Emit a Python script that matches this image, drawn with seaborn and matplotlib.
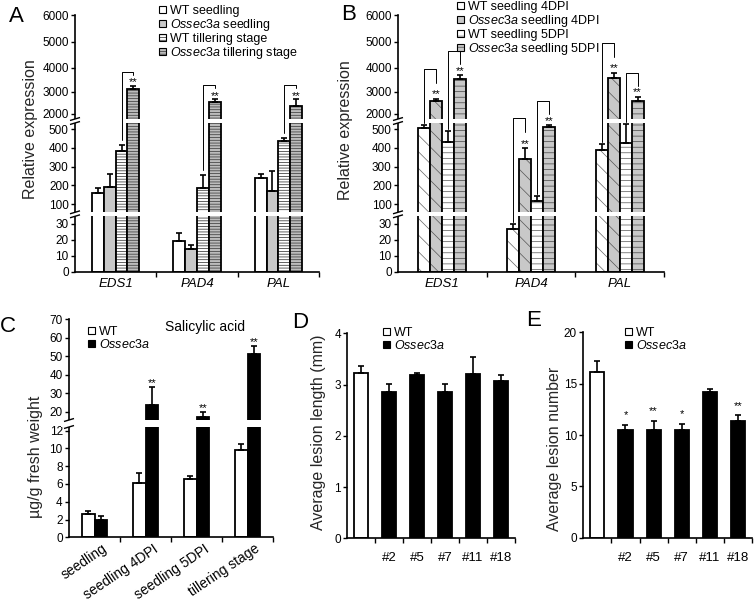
import numpy as np
import pandas as pd
import seaborn as sns
import matplotlib.pyplot as plt
from matplotlib.patches import Patch, Rectangle
from matplotlib.colors import to_rgba
from matplotlib.transforms import ScaledTranslation

# ---------------- data ----------------
genes = ['EDS1', 'PAD4', 'PAL']

# A: seedling vs tillering stage
a_labels = ['WT seedling', 'Ossec3a seedling', 'WT tillering stage', 'Ossec3a tillering stage']
a_wt_seed = [158, 19, 242]
a_wt_seed_err = [30, 5, 18]
a_oss_seed = [190, 14, 170]
a_oss_seed_err = [70, 3, 105]
a_wt_till = [382, 185, 438]
a_wt_till_err = [32, 70, 12]
a_oss_till = [3120, 2560, 2360]
a_oss_till_err = [150, 140, 300]

# B: seedling 4DPI / 5DPI
b_labels = ['WT seedling 4DPI', 'Ossec3a seedling 4DPI', 'WT seedling 5DPI', 'Ossec3a seedling 5DPI']
b_wt4 = [505, 27, 390]
b_wt4_err = [15, 3, 30]
b_oss4 = [2570, 343, 3600]
b_oss4_err = [120, 55, 200]
b_wt5 = [433, 115, 425]
b_wt5_err = [57, 30, 100]
b_oss5 = [3540, 512, 2590]
b_oss5_err = [150, 8, 190]

# C: salicylic acid
c_cats = ['seedling', 'seedling 4DPI', 'seedling 5DPI', 'tillering stage']
c_wt = [2.6, 6.1, 6.6, 9.8]
c_wt_err = [0.4, 1.1, 0.35, 0.7]
c_oss = [2.0, 23.6, 17.5, 51.0]
c_oss_err = [0.35, 9.7, 2.5, 4.5]
c_stars = ['', '**', '**', '**']

# D / E: lesions
lines = ['WT', '#2', '#5', '#7', '#11', '#18']
line_ticklabels = ['', '#2', '#5', '#7', '#11', '#18']
d_len = [3.22, 2.85, 3.18, 2.85, 3.2, 3.07]
d_len_err = [0.15, 0.17, 0.04, 0.16, 0.33, 0.12]
e_num = [16.1, 10.5, 10.5, 10.5, 14.2, 11.4]
e_num_err = [1.1, 0.5, 0.9, 0.6, 0.3, 0.5]
e_stars = ['', '*', '**', '*', '', '**']

# broken-axis scales: value breakpoints and their height (px) above the baseline
ab_nodes = [0, 30, 34.6, 57.4, 100, 500, 532, 1773, 2000, 3000, 4000, 5000, 6000]
ab_height = [0, 48, 55.4, 59.4, 67.4, 142.7, 148.7, 152.7, 157.7, 179.7, 203.7, 229.7, 256.7]
ab_gaps = [(34.6, 57.4), (532, 1773)]
ab_ticks = [0, 10, 20, 30, 100, 200, 300, 400, 500, 2000, 3000, 4000, 5000, 6000]
c_nodes = [0, 12, 12.4, 15.7, 20, 70]
c_height = [0, 106.6, 110.3, 117.3, 125.3, 218.3]
c_gaps = [(12.4, 15.7)]
c_ticks = [0, 2, 4, 6, 8, 10, 12, 20, 30, 40, 50, 60, 70]

# ---------------- style ----------------
sns.set_theme(style='ticks', rc={
    'axes.linewidth': 1.2,
    'xtick.major.width': 1.0, 'ytick.major.width': 1.0,
    'xtick.minor.width': 1.0,
    'xtick.major.size': 3, 'ytick.major.size': 3, 'xtick.minor.size': 3,
    'xtick.labelsize': 8.5, 'ytick.labelsize': 8.5,
    'xtick.color': 'black', 'ytick.color': 'black',
    'axes.edgecolor': 'black', 'text.color': 'black',
    'hatch.linewidth': 0.5,
    'mathtext.fontset': 'custom',
    'mathtext.rm': 'Liberation Sans',
    'mathtext.it': 'Liberation Sans:italic',
})
plt.rcParams['font.family'] = ['Liberation Sans', 'DejaVu Sans']

W, H = 756, 600
fig = plt.figure(figsize=(W / 100, H / 100), dpi=100)


def px_axes(l, t, r, b):
    ax = fig.add_axes([l / W, 1 - b / H, (r - l) / W, (b - t) / H])
    return ax, r - l


def piecewise(vals, pix):
    v = np.asarray(vals, float)
    p = np.asarray(pix, float)
    s0 = (p[1] - p[0]) / (v[1] - v[0])
    s1 = (p[-1] - p[-2]) / (v[-1] - v[-2])

    def fwd(x):
        x = np.asarray(x, float)
        y = np.interp(x, v, p)
        y = np.where(x < v[0], p[0] + (x - v[0]) * s0, y)
        return np.where(x > v[-1], p[-1] + (x - v[-1]) * s1, y)

    def inv(y):
        y = np.asarray(y, float)
        x = np.interp(y, p, v)
        x = np.where(y < p[0], v[0] + (y - p[0]) / s0, x)
        return np.where(y > p[-1], v[-1] + (y - p[-1]) / s1, x)

    return fwd, inv


def set_hatch(p, hatch, color):
    p.set_hatch(hatch)
    if hasattr(p, 'set_hatchcolor'):
        p.set_hatchcolor(color)
    else:
        p._hatch_color = to_rgba(color)


def legend_label(s):
    return s.replace('Ossec3a', r'$\it{Ossec3a}$')


def add_legend(labels, colors, hatches, hcolors, x, y, fs=9):
    handles = []
    for c, h, hc in zip(colors, hatches, hcolors):
        p = Patch(facecolor=c, edgecolor='black', linewidth=0.8)
        if h:
            set_hatch(p, h, hc)
        handles.append(p)
    fig.legend(handles, [legend_label(s) for s in labels], loc='upper left',
               bbox_to_anchor=(x / W, 1 - y / H), frameon=False, fontsize=fs,
               handlelength=0.55, handleheight=0.55, handletextpad=0.35,
               labelspacing=0.0, borderpad=0, borderaxespad=0)


def grouped_bars(ax, cats, labels, series, errs, colors, hatches, hcolors, width):
    df = pd.DataFrame([(c, lab, v) for lab, vals in zip(labels, series)
                       for c, v in zip(cats, vals)], columns=['cat', 'group', 'value'])
    sns.barplot(data=df, x='cat', y='value', hue='group', order=cats, hue_order=labels,
                palette=colors, width=width, saturation=1, errorbar=None, dodge=True,
                edgecolor='black', linewidth=1.3, legend=False, ax=ax)
    centers = []
    for cont, h, hc, e in zip(ax.containers, hatches, hcolors, errs):
        xs = [p.get_x() + p.get_width() / 2 for p in cont]
        ys = [p.get_height() for p in cont]
        for p in cont:
            if h:
                set_hatch(p, h, hc)
        ax.errorbar(xs, ys, yerr=[np.zeros(len(e)), e], fmt='none', ecolor='black',
                    elinewidth=1.2, capsize=2.3, capthick=1.2, zorder=2)
        centers.append(xs)
    return centers


def single_bars(ax, cats, vals, errs, colors, width):
    df = pd.DataFrame({'cat': cats, 'value': vals})
    sns.barplot(data=df, x='cat', y='value', hue='cat', order=cats, hue_order=cats,
                palette=colors, width=width, saturation=1, errorbar=None, dodge=False,
                edgecolor='black', linewidth=1.3, legend=False, ax=ax)
    xs = []
    for cont, e in zip(ax.containers, errs):
        p = cont[0]
        x = p.get_x() + p.get_width() / 2
        ax.errorbar([x], [p.get_height()], yerr=[[0], [e]], fmt='none', ecolor='black',
                    elinewidth=1.2, capsize=2.3, capthick=1.2, zorder=2)
        xs.append(x)
    return xs


def broken_y(ax, nodes, heights, gaps, ticks, ymax, width_px):
    fwd, inv = piecewise(nodes, heights)
    ax.set_yscale('function', functions=(fwd, inv))
    ax.set_ylim(0, ymax)
    ax.set_yticks(ticks)
    ax.set_yticklabels([str(t) for t in ticks])
    ax.minorticks_off()
    for lo, hi in gaps:
        ax.add_patch(Rectangle((-8 / width_px, lo), 1 + 8 / width_px, hi - lo,
                               transform=ax.get_yaxis_transform(), facecolor='white',
                               edgecolor='none', zorder=3, clip_on=False))
        for v in (lo, hi):
            p = float(fwd(v))
            ax.plot([-5 / width_px, 5 / width_px], [float(inv(p - 1.5)), float(inv(p + 1.5))],
                    transform=ax.get_yaxis_transform(), color='black', lw=1.0,
                    zorder=4, clip_on=False, solid_capstyle='butt')
    return fwd, inv


def bracket(ax, fwd, inv, x1, x2, cap1, cap2, foot, rise, drop, star_off):
    p1 = float(fwd(cap1)) + foot
    top = max(float(fwd(cap2)) + rise, p1 + 4)
    ys = [float(inv(p1)), float(inv(top)), float(inv(top)), float(inv(top - drop))]
    ax.plot([x1, x1, x2, x2], ys, color='black', lw=0.7, zorder=5, clip_on=False)
    ax.annotate('**', (x2, cap2), xytext=(0, star_off), textcoords='offset points',
                ha='center', va='baseline', fontsize=8, zorder=5)


def cat_axis(ax, n, labels, pad, fs, italic=False):
    ax.set_xlim(-0.5, n - 0.5)
    ax.set_xticks(np.arange(n))
    ax.set_xticklabels(labels, fontsize=fs, fontstyle='italic' if italic else 'normal')
    ax.set_xticks(np.arange(0.5, n, 1), minor=True)
    ax.tick_params(axis='x', which='major', length=0, pad=pad)
    ax.tick_params(axis='x', which='minor', length=3.5, width=1.0, direction='out')
    ax.set_xlabel('')


# ---------------- A ----------------
axA, wA = px_axes(75, 15, 319, 271.7)
a_colors = ['white', '#c8c8c8', 'white', '#bcbcbc']
a_hatch = [None, None, '------', '------']
a_hcol = ['black', 'black', '#222222', '#333333']
a_series = [a_wt_seed, a_oss_seed, a_wt_till, a_oss_till]
a_errs = [a_wt_seed_err, a_oss_seed_err, a_wt_till_err, a_oss_till_err]
cA = grouped_bars(axA, genes, a_labels, a_series, a_errs, a_colors, a_hatch, a_hcol, 0.58)
fA, iA = broken_y(axA, ab_nodes, ab_height, ab_gaps, ab_ticks, 6000, wA)
for i in range(len(genes)):
    bracket(axA, fA, iA, cA[2][i], cA[3][i],
            a_wt_till[i] + a_wt_till_err[i], a_oss_till[i] + a_oss_till_err[i],
            5, 14, 3, 0)
cat_axis(axA, 3, genes, 4.5, 9.5, italic=True)
axA.set_ylabel('Relative expression', fontsize=11.5)
axA.yaxis.set_label_coords((38 - 75) / wA, 0.556)
add_legend(a_labels, a_colors, a_hatch, a_hcol, 159, 5)

# ---------------- B ----------------
axB, wB = px_axes(398, 15, 664, 271.7)
b_colors = ['white', '#c8c8c8', 'white', '#c8c8c8']
b_hatch = ['\\\\', '\\\\', '---', '---']
b_hcol = ['#666666', '#555555', '#555555', '#444444']
b_series = [b_wt4, b_oss4, b_wt5, b_oss5]
b_errs = [b_wt4_err, b_oss4_err, b_wt5_err, b_oss5_err]
cB = grouped_bars(axB, genes, b_labels, b_series, b_errs, b_colors, b_hatch, b_hcol, 0.54)
fB, iB = broken_y(axB, ab_nodes, ab_height, ab_gaps, ab_ticks, 6000, wB)
for i in range(len(genes)):
    bracket(axB, fB, iB, cB[0][i], cB[1][i],
            b_wt4[i] + b_wt4_err[i], b_oss4[i] + b_oss4_err[i], 2, 30, 14, 1)
    bracket(axB, fB, iB, cB[2][i], cB[3][i],
            b_wt5[i] + b_wt5_err[i], b_oss5[i] + b_oss5_err[i], 2, 24, 13, 1)
cat_axis(axB, 3, genes, 4.5, 9.5, italic=True)
axB.set_ylabel('Relative expression', fontsize=11.5)
axB.yaxis.set_label_coords((353 - 398) / wB, 0.552)
add_legend(b_labels, b_colors, b_hatch, b_hcol, 457, 1)

# ---------------- C ----------------
axC, wC = px_axes(69, 319, 273, 537.3)
c_labels = ['WT', 'Ossec3a']
c_colors = ['white', 'black']
cC = grouped_bars(axC, c_cats, c_labels, [c_wt, c_oss], [c_wt_err, c_oss_err],
                  c_colors, [None, None], ['black', 'black'], 0.5)
fC, iC = broken_y(axC, c_nodes, c_height, c_gaps, c_ticks, 70, wC)
for x, v, e, s in zip(cC[1], c_oss, c_oss_err, c_stars):
    if s:
        axC.annotate(s, (x, v + e), xytext=(0, 1), textcoords='offset points',
                     ha='center', va='baseline', fontsize=8)
cat_axis(axC, 4, c_cats, 3, 10)
shift = ScaledTranslation(7 / 100, 0, fig.dpi_scale_trans)
for lbl in axC.get_xticklabels():
    lbl.set_rotation(34)
    lbl.set_ha('right')
    lbl.set_rotation_mode('anchor')
    lbl.set_transform(lbl.get_transform() + shift)
axC.set_ylabel('\u00b5g/g fresh weight', fontsize=11.5)
axC.yaxis.set_label_coords((43 - 69) / wC, 0.368)
axC.text(0.667, 0.965, 'Salicylic acid', transform=axC.transAxes, ha='center',
         va='center', fontsize=10)
add_legend(c_labels, c_colors, [None, None], ['black', 'black'], 88, 326)

# ---------------- D ----------------
axD, wD = px_axes(347.3, 333.3, 515, 538.3)
line_colors = ['white'] + ['black'] * 5
single_bars(axD, lines, d_len, d_len_err, line_colors, 0.5)
axD.set_ylim(0, 4)
axD.set_yticks([0, 1, 2, 3, 4])
cat_axis(axD, 6, line_ticklabels, 10, 9.5)
axD.set_ylabel('Average lesion length (mm)', fontsize=11.5)
axD.yaxis.set_label_coords((326 - 347.3) / wD, 0.516)
add_legend(c_labels, c_colors, [None, None], ['black', 'black'], 383, 327)

# ---------------- E ----------------
axE, wE = px_axes(583.3, 332.3, 752, 537.7)
xE = single_bars(axE, lines, e_num, e_num_err, line_colors, 0.5)
for x, v, e, s in zip(xE, e_num, e_num_err, e_stars):
    if s:
        axE.annotate(s, (x, v + e), xytext=(0, 4.5), textcoords='offset points',
                     ha='center', va='baseline', fontsize=8)
axE.set_ylim(0, 20)
axE.set_yticks([0, 5, 10, 15, 20])
cat_axis(axE, 6, line_ticklabels, 10, 9.5)
axE.set_ylabel('Average lesion number', fontsize=11.5)
axE.yaxis.set_label_coords((562 - 583.3) / wE, 0.432)
add_legend(c_labels, c_colors, [None, None], ['black', 'black'], 625, 327)

for ax in (axA, axB, axC, axD, axE):
    sns.despine(ax=ax)
    ax.tick_params(axis='y', pad=1.5)

for letter, x, y in [('A', 16, 16), ('B', 349, 15), ('C', 8, 327), ('D', 300, 322), ('E', 534, 321)]:
    fig.text(x / W, 1 - y / H, letter, fontsize=16, ha='center', va='center')

fig.savefig('out.png', dpi=100)
